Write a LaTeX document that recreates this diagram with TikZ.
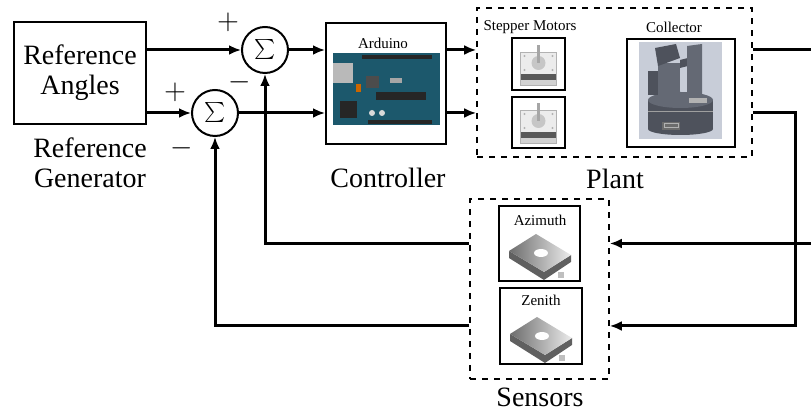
\documentclass[tikz,border=0pt]{standalone}
\usepackage{fontspec}
\setmainfont{Liberation Serif}
\usepackage{tikz}
\usetikzlibrary{arrows.meta}

\definecolor{boardteal}{RGB}{28,88,108}
\definecolor{collbg}{RGB}{200,205,216}
\definecolor{colldark}{RGB}{78,82,92}
\definecolor{collmid}{RGB}{100,105,116}

% stepper motor picture, centred on #1
\newcommand{\steppermotor}[1]{%
  \begin{scope}[shift={#1}]
    \fill[gray!35] (-18,8) rectangle (18,19);
    \fill[gray!70!black] (-18,8) rectangle (18,14);
    \fill[gray!15] (-18,-14) rectangle (18,8);
    \draw[gray!60] (-18,-14) rectangle (18,19);
    \fill[gray!45] (0,-3) circle (7);
    \fill[gray!70] (-1.5,-21) rectangle (1.5,-3);
    \foreach \cx/\cy in {-14/-10,14/-10,-14/4,14/4}
      \fill[gray!60] (\cx,\cy) circle (1.2);
  \end{scope}}

% encoder picture, centred on #1
\newcommand{\encoderpic}[1]{%
  \begin{scope}[shift={#1}]
    \fill[gray!75!black] (-31,0) -- (4,22) -- (31,4) -- (31,-3) -- (4,14) -- (-31,-7) -- cycle;
    \shade[left color=gray!85!black,right color=gray!15] (-31,-7) -- (-4,-24) -- (31,-3) -- (4,14) -- cycle;
    \fill[white] (1,-5) ellipse (7 and 4);
    \fill[gray!50] (18,14) rectangle (24,20);
  \end{scope}}

\begin{document}
\begin{tikzpicture}[x=0.5pt,y=-0.5pt,>={Latex[length=6pt,width=5pt]}]
  \tikzstyle{sig}=[->,line width=1.5pt]
  \tikzstyle{blk}=[draw,line width=1pt,inner sep=0pt]
  \tikzstyle{grp}=[draw,dashed,line width=0.8pt,inner sep=0pt]
  \tikzstyle{adder}=[draw,circle,line width=1pt,minimum size=23pt,inner sep=0pt,font=\fontsize{12}{12}\selectfont]
  \tikzstyle{bigtext}=[font=\fontsize{14}{15}\selectfont,align=center]
  \tikzstyle{smalltext}=[font=\fontsize{7.5}{9}\selectfont]

  \useasboundingbox (0,0) rectangle (811,410);

  % reference generator
  \node[blk,bigtext,minimum width=66pt,minimum height=51pt] (ref) at (80,73) {Reference\\Angles};
  \node[bigtext] (reflabel) at (90,163) {Reference\\Generator};

  % summing junctions
  \node[adder] (sum1) at (265,50) {$\sum$};
  \node[adder] (sum2) at (215,113) {$\sum$};
  \node[bigtext] (plus1) at (228,22) {$+$};
  \node[bigtext] (minus1) at (240,82) {$-$};
  \node[bigtext] (plus2) at (175,92) {$+$};
  \node[bigtext] (minus2) at (182,148) {$-$};

  % controller
  \node[blk,minimum width=60pt,minimum height=60.5pt] (ctrl) at (386,83.5) {};
  \node[smalltext] (arduino) at (383,43) {Arduino};
  \node[bigtext] (ctrllabel) at (388,178) {Controller};
  \fill[boardteal] (333,53) rectangle (440,125);
  \fill[gray!55] (333,63) rectangle (353,83);
  \fill[black!85] (340,101) rectangle (357,118);
  \fill[black!85] (362,55) rectangle (432,59);
  \fill[black!85] (368,120) rectangle (432,124);
  \fill[black!85] (376,92) rectangle (426,100);
  \fill[black!70] (366,76) rectangle (379,88);
  \fill[orange!80!black] (356,84) rectangle (361,92);
  \fill[gray!70] (390,78) rectangle (402,83);
  \fill[gray!30] (372,113) circle (3);
  \fill[gray!30] (382,113) circle (3);

  % plant
  \node[grp,minimum width=137.5pt,minimum height=74.5pt] (plant) at (614.5,82.5) {};
  \node[bigtext] (plantlabel) at (615,179) {Plant};
  \node[smalltext] (steplabel) at (530,27) {Stepper Motors};
  \node[smalltext] (colllabel) at (674,27) {Collector};
  \node[blk,minimum width=26.5pt,minimum height=26pt] (motA) at (538.5,64) {};
  \node[blk,minimum width=26.5pt,minimum height=25.5pt] (motB) at (538.5,122.5) {};
  \steppermotor{(538.5,66)}
  \steppermotor{(538.5,124)}
  \node[blk,minimum size=54pt] (coll) at (681,93) {};
  \fill[collbg] (639,42) rectangle (722,139);
  \fill[colldark] (680.5,129) ellipse (32.5 and 6);
  \fill[colldark] (648,100) rectangle (713,129);
  \draw[gray!75,line width=0.5pt] (648,112) -- (713,112);
  \fill[collmid] (680.5,100) ellipse (32.5 and 8);
  \fill[gray!85!black] (662,122) rectangle (680,130);
  \draw[gray!60,line width=0.5pt] (664,124) rectangle (678,128);
  \fill[colldark] (648,71) rectangle (659,95);
  \fill[collmid] (658,63) rectangle (680,103);
  \fill[colldark] (655,48) -- (676,44) -- (680,58) -- (658,66) -- cycle;
  \fill[colldark] (680,60) -- (688,58) -- (688,66) -- (680,68) -- cycle;
  \fill[collmid] (687,46) -- (702,44) -- (702,104) -- (687,106) -- cycle;
  \fill[gray!60] (689,98) rectangle (707,103);

  % sensors
  \node[grp,minimum width=69.5pt,minimum height=90pt] (sens) at (539.5,289) {};
  \node[bigtext] (senslabel) at (540,397) {Sensors};
  \node[blk,minimum width=40.5pt,minimum height=37.5pt] (azi) at (539.5,243.5) {};
  \node[blk,minimum width=41pt,minimum height=38pt] (zen) at (541,326) {};
  \node[smalltext] (azilabel) at (540,220) {Azimuth};
  \node[smalltext] (zenlabel) at (541,300) {Zenith};
  \encoderpic{(540,258)}
  \encoderpic{(541,341)}

  % signals
  \coordinate (outA) at (818,50);
  \coordinate (outB) at (795,113);
  \draw[sig] (ref.east |- sum1.west) -- (sum1.west);
  \draw[sig] (ref.east |- sum2.west) -- (sum2.west);
  \draw[sig] (sum1.east) -- (ctrl.west |- sum1.east);
  \draw[sig] (sum2.east) -- (ctrl.west |- sum2.east);
  \draw[sig] (ctrl.east |- sum1) -- (plant.west |- sum1);
  \draw[sig] (ctrl.east |- sum2) -- (plant.west |- sum2);
  \draw[sig] (plant.east |- sum1) -- (outA) |- (sens.east |- azi);
  \draw[sig] (plant.east |- sum2) -- (outB) |- (sens.east |- zen);
  \draw[sig] (sens.west |- azi) -| (sum1.south);
  \draw[sig] (sens.west |- zen) -| (sum2.south);
\end{tikzpicture}
\end{document}
